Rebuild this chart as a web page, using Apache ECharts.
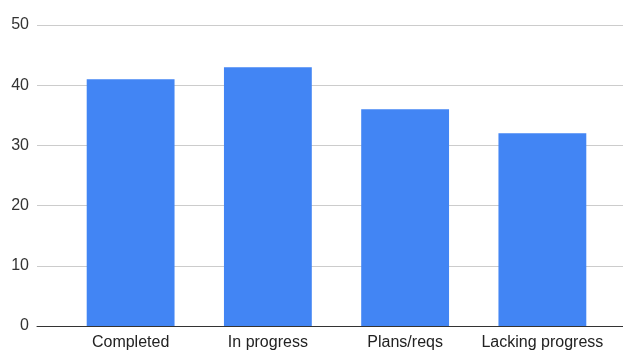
<!DOCTYPE html>
<html>
<head>
<meta charset="utf-8">
<script src="https://cdn.jsdelivr.net/npm/echarts@6/dist/echarts.min.js"></script>
<style>
  html, body { margin: 0; padding: 0; background: #fff; }
  #chart { width: 623px; height: 352px; }
</style>
</head>
<body>
<div id="chart"></div>
<script>
const categories = ['Completed', 'In progress', 'Plans/reqs', 'Lacking progress'];
const values = [41, 43, 36, 32];
const yTicks = [0, 10, 20, 30, 40, 50];

const yMin = yTicks[0];
const yMax = yTicks[yTicks.length - 1];
const yStep = yTicks[1] - yTicks[0];
const font = '"Liberation Sans", Arial, sans-serif';

const chart = echarts.init(document.getElementById('chart'), null, { renderer: 'canvas' });
chart.setOption({
  animation: false,
  backgroundColor: '#ffffff',
  grid: [
    // full-width frame carrying the value gridlines and the baseline
    { left: 37, right: 0, top: 25, bottom: 26 },
    // inner plot area carrying the bars
    { left: 62, right: 12, top: 25, bottom: 26 }
  ],
  xAxis: [
    {
      gridIndex: 0, type: 'category', data: [''],
      axisLine: { show: true, lineStyle: { color: '#333', width: 1 } },
      axisTick: { show: false }, axisLabel: { show: false }
    },
    {
      gridIndex: 1, type: 'category', data: categories,
      axisLine: { show: false }, axisTick: { show: false },
      axisLabel: { color: '#222', fontSize: 16, fontFamily: font, margin: 9, interval: 0 }
    }
  ],
  yAxis: [
    {
      gridIndex: 0, type: 'value', min: yMin, max: yMax, interval: yStep,
      axisLine: { show: false }, axisTick: { show: false },
      axisLabel: { color: '#333', fontSize: 16, fontFamily: font, margin: 8 },
      splitLine: { lineStyle: { color: '#cccccc', width: 1 } }
    },
    {
      gridIndex: 1, type: 'value', min: yMin, max: yMax, interval: yStep,
      show: false, splitLine: { show: false }
    }
  ],
  series: [
    {
      type: 'bar', xAxisIndex: 1, yAxisIndex: 1,
      data: values, barCategoryGap: '36%',
      itemStyle: { color: '#4285f4' }
    }
  ]
});
</script>
</body>
</html>
